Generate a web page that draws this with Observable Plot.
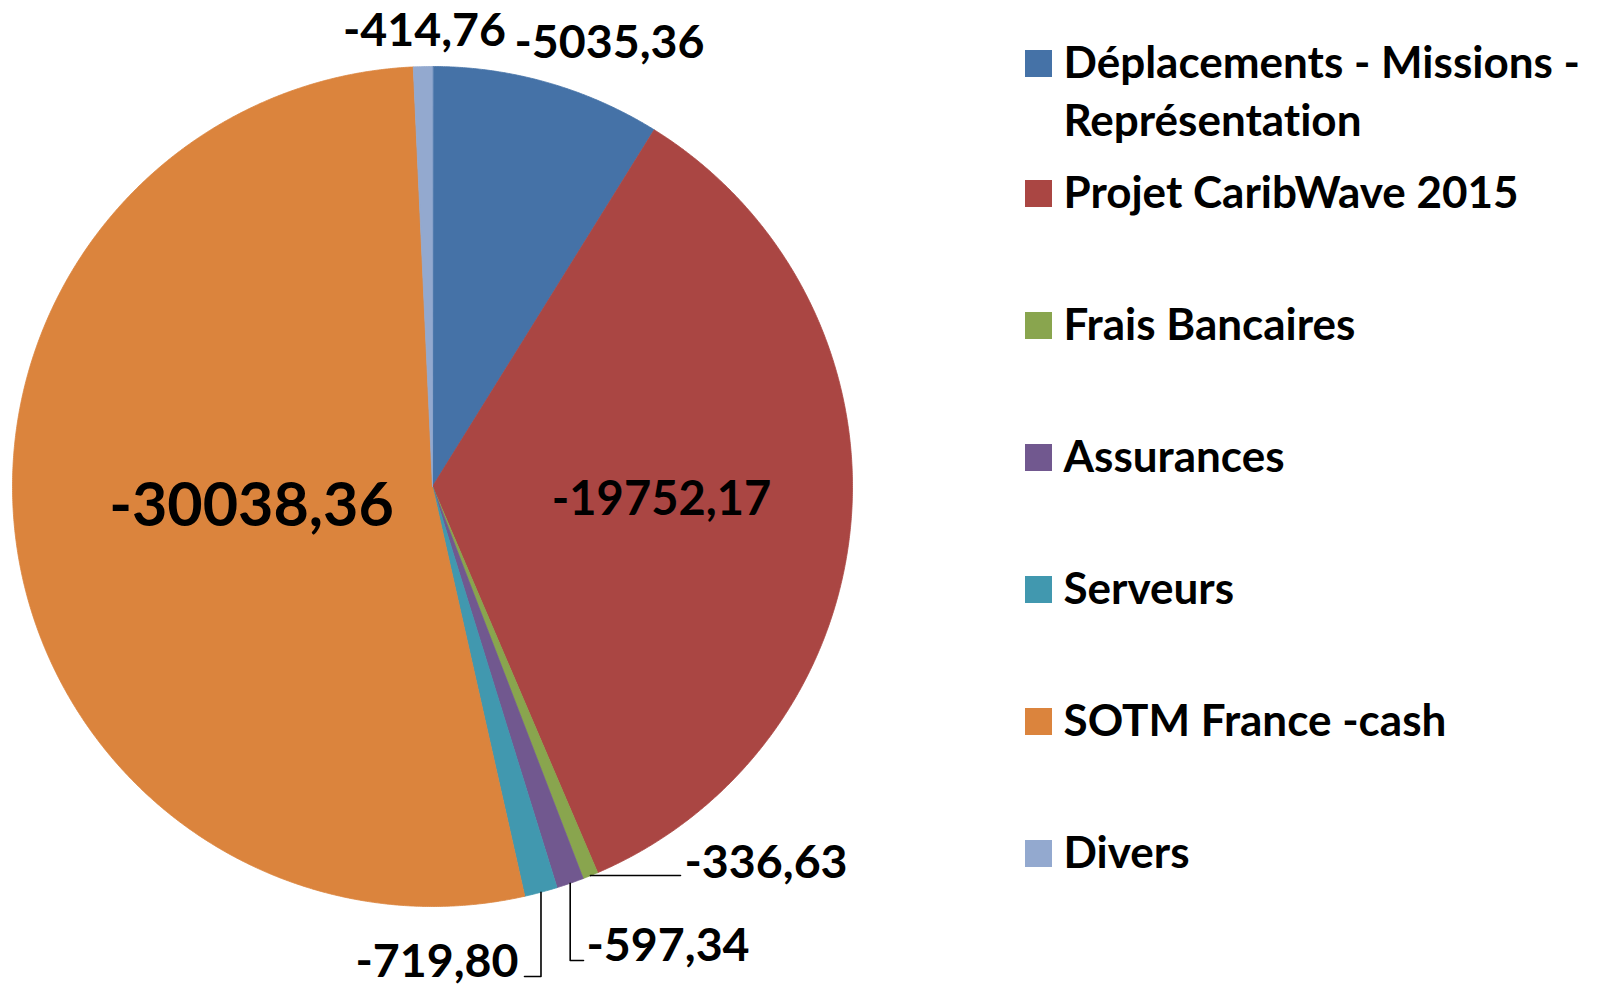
<!DOCTYPE html>
<html>
<head>
<meta charset="utf-8">
<script src="https://cdn.jsdelivr.net/npm/d3@7"></script>
<script src="https://cdn.jsdelivr.net/npm/@observablehq/plot@0.6"></script>
<style>
  html, body { margin: 0; padding: 0; background: #fff; }
  #chart svg { display: block; }
  #chart svg text { font-variant-ligatures: none; font-feature-settings: "liga" 0, "clig" 0; }
</style>
</head>
<body>
<div id="chart"></div>
<script>
// ---- DATA ----
const categories = [
  "Déplacements - Missions - Représentation",
  "Projet CaribWave 2015",
  "Frais Bancaires",
  "Assurances",
  "Serveurs",
  "SOTM France -cash",
  "Divers"
];
const legendLines = [
  ["Déplacements - Missions -", "Représentation"],
  ["Projet CaribWave 2015"],
  ["Frais Bancaires"],
  ["Assurances"],
  ["Serveurs"],
  ["SOTM France -cash"],
  ["Divers"]
];
const values = [-5035.36, -19752.17, -336.63, -597.34, -719.80, -30038.36, -414.76];
const colors = ["#4572A7", "#AA4643", "#89A54E", "#71588F", "#4198AF", "#DB843D", "#93A9CF"];

// ---- LAYOUT ----
const W = 1604, H = 985;
const cx = 432, cy = 486, R = 420;
// label placement: text anchor point, alignment, font size, optional leader attach point
const labelLayout = [
  {x: 609, y: 57,  anchor: "middle", size: 46.5},
  {x: 661, y: 514, anchor: "middle", size: 47},
  {x: 684, y: 877, anchor: "start",  size: 46.5, attach: [680, 875]},
  {x: 586, y: 960, anchor: "start",  size: 46.5, attach: [583, 960]},
  {x: 518, y: 976, anchor: "end",    size: 46.5, attach: [524, 976]},
  {x: 251, y: 525, anchor: "middle", size: 61},
  {x: 424, y: 45,  anchor: "middle", size: 46.5}
];
const legend = {squareX: 1025, squareSize: 27, textX: 1063, firstBaseline: 77, baseline2: 207, step: 132, lineHeight: 58, fontSize: 44};

// ---- DERIVED ----
const fmt = v => v.toFixed(2).replace(".", ",");
const total = d3.sum(values, v => Math.abs(v));
let acc = 0;
const slices = categories.map((name, i) => {
  const a0 = acc / total * 2 * Math.PI;
  acc += Math.abs(values[i]);
  const a1 = acc / total * 2 * Math.PI;
  return {name, value: values[i], a0, a1, mid: (a0 + a1) / 2, i};
});
const polar = (a, r) => [cx + r * Math.sin(a), cy - r * Math.cos(a)];

const slicePts = [];
for (const s of slices) {
  slicePts.push({name: s.name, x: cx, y: cy});
  const n = Math.max(2, Math.ceil((s.a1 - s.a0) / (Math.PI / 720)));
  for (let k = 0; k <= n; k++) {
    const a = s.a0 + (s.a1 - s.a0) * k / n;
    const [x, y] = polar(a, R);
    slicePts.push({name: s.name, x, y});
  }
}

const labels = slices.map((s, i) => ({...labelLayout[i], text: fmt(s.value), name: s.name}));

const leaderPts = [];
slices.forEach((s, i) => {
  const L = labelLayout[i];
  if (!L.attach) return;
  const [ex, ey] = polar(s.mid, R);
  leaderPts.push({name: s.name, x: ex, y: ey});
  leaderPts.push({name: s.name, x: ex, y: L.attach[1]});
  leaderPts.push({name: s.name, x: L.attach[0], y: L.attach[1]});
});

const legendItems = categories.map((name, i) => {
  const base = i === 0 ? legend.firstBaseline : legend.baseline2 + (i - 1) * legend.step;
  return {
    name,
    base,
    x1: legend.squareX, x2: legend.squareX + legend.squareSize,
    y1: base - legend.squareSize, y2: base,
    text: legendLines[i].join("\n"),
    ty: base + (legendLines[i].length - 1) * legend.lineHeight
  };
});

const font = "Lato, 'Open Sans', sans-serif";

const chart = Plot.plot({
  width: W,
  height: H,
  margin: 0,
  x: {domain: [0, W], range: [0, W], axis: null},
  y: {domain: [0, H], range: [0, H], axis: null},
  color: {domain: categories, range: colors},
  style: {fontFamily: font, background: "#fff"},
  marks: [
    Plot.line(slicePts, {x: "x", y: "y", z: "name", fill: "name", stroke: "name", strokeWidth: 0.8, curve: "linear-closed"}),
    Plot.line(leaderPts, {x: "x", y: "y", z: "name", stroke: "#000", strokeWidth: 1.6}),
    ...labels.map(L => Plot.text([L], {
      x: "x", y: "y", text: "text", textAnchor: L.anchor, lineAnchor: "bottom",
      fontSize: L.size, fontWeight: "bold", fill: "#000", fontFamily: font
    })),
    Plot.rect(legendItems, {x1: "x1", x2: "x2", y1: "y1", y2: "y2", fill: "name"}),
    Plot.text(legendItems, {
      x: legend.textX, y: "ty", text: "text", textAnchor: "start", lineAnchor: "bottom",
      lineHeight: legend.lineHeight / legend.fontSize,
      fontSize: legend.fontSize, fontWeight: "bold", fill: "#000", fontFamily: font
    })
  ]
});
document.getElementById("chart").appendChild(chart);
</script>
</body>
</html>
